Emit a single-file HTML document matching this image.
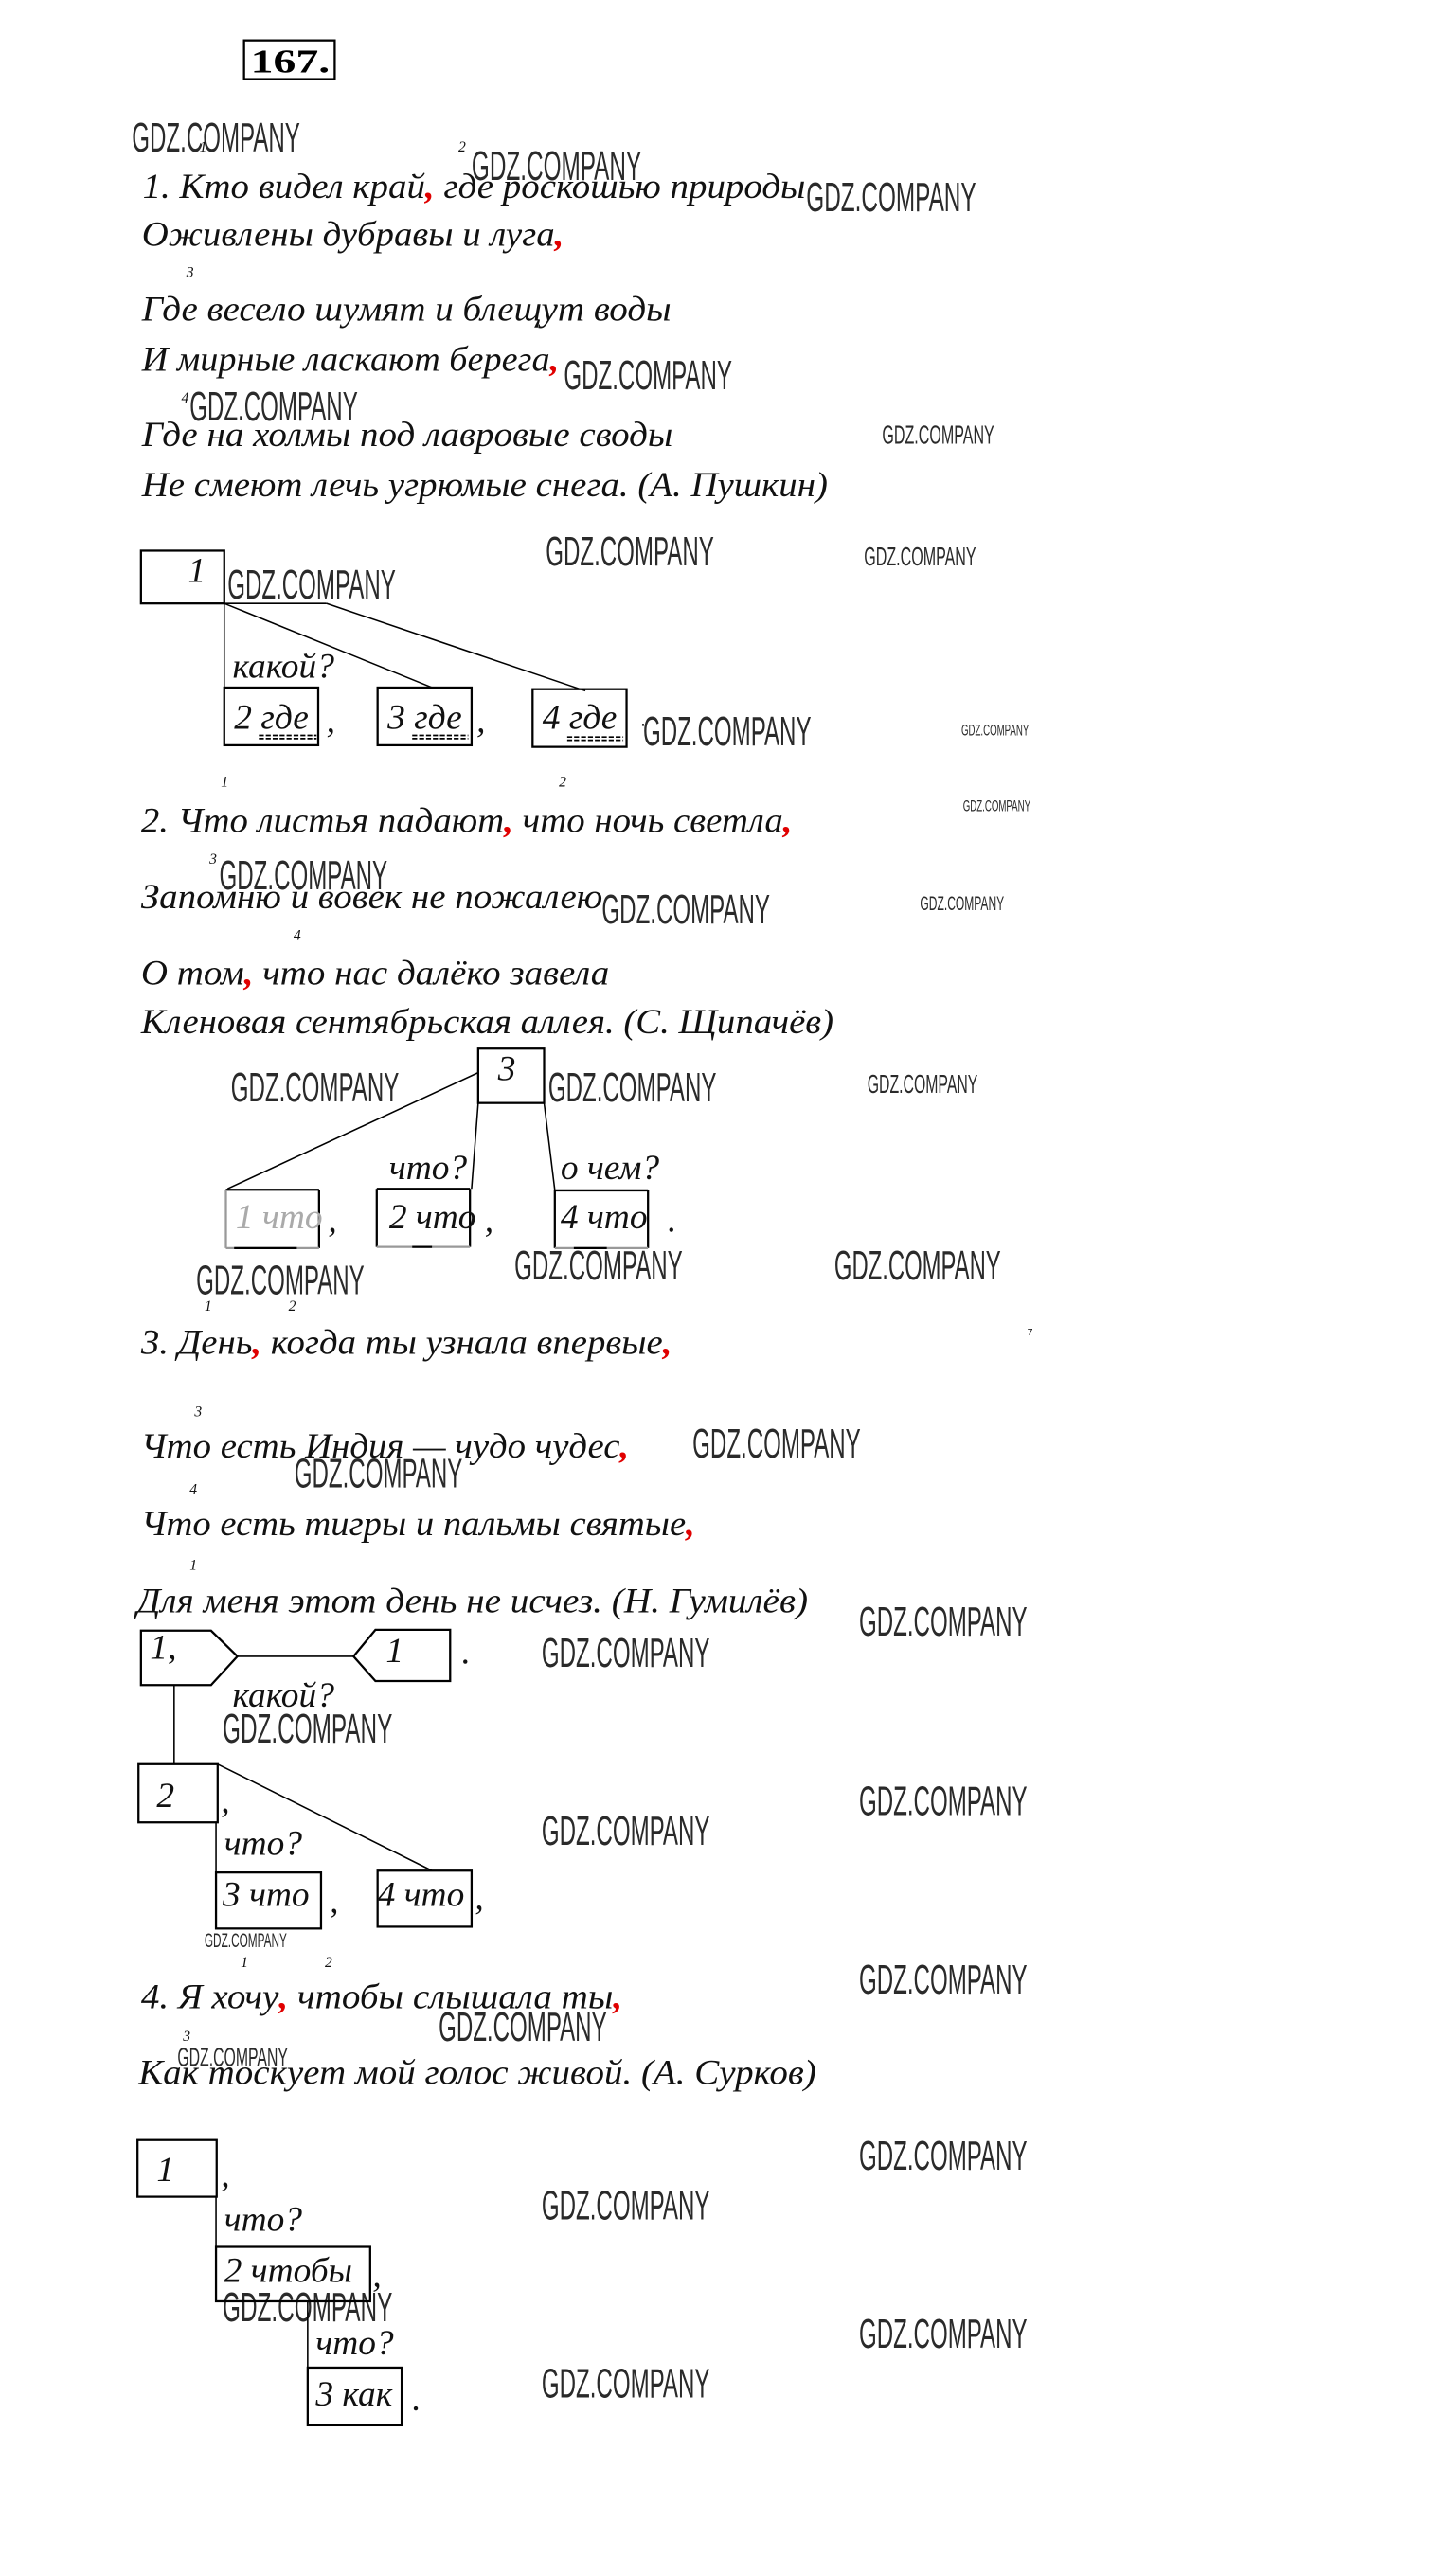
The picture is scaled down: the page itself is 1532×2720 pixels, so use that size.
<!DOCTYPE html>
<html><head><meta charset="utf-8"><style>
html,body{margin:0;padding:0;background:#fff;}
svg{display:block;}
.t{font-family:"Liberation Serif","DejaVu Serif",serif;font-style:italic;font-size:21.5px;fill:#111;}
.s{font-family:"Liberation Serif",serif;font-style:italic;font-size:9px;fill:#111;}
.w{font-family:"Liberation Sans Narrow","Liberation Sans",sans-serif;fill:#2a2a2a;}
.r{fill:#e00000;font-weight:bold;}
.b{fill:none;stroke:#000;stroke-width:1.3;}
.l{stroke:#000;stroke-width:0.9;fill:none;}
</style></head><body>
<svg width="1532" height="2720" viewBox="0 0 880 1562.4" preserveAspectRatio="none" xmlns="http://www.w3.org/2000/svg">
<rect x="0" y="0" width="880" height="1562.4" fill="#fff"/>
<!-- header -->
<rect x="148" y="24.5" width="55" height="23.5" class="b"/>
<text x="152" y="44" font-family="Liberation Serif,serif" font-weight="bold" font-size="20" textLength="48" lengthAdjust="spacingAndGlyphs">167.</text>

<!-- watermarks big -->
<g class="w" font-size="25">
<text x="80" y="92" textLength="102" lengthAdjust="spacingAndGlyphs">GDZ.COMPANY</text>
<text x="286" y="109" textLength="103" lengthAdjust="spacingAndGlyphs">GDZ.COMPANY</text>
<text x="489" y="128" textLength="103" lengthAdjust="spacingAndGlyphs">GDZ.COMPANY</text>
<text x="342" y="236" textLength="102" lengthAdjust="spacingAndGlyphs">GDZ.COMPANY</text>
<text x="115" y="255" textLength="102" lengthAdjust="spacingAndGlyphs">GDZ.COMPANY</text>
<text x="331" y="343" textLength="102" lengthAdjust="spacingAndGlyphs">GDZ.COMPANY</text>
<text x="138" y="363" textLength="102" lengthAdjust="spacingAndGlyphs">GDZ.COMPANY</text>
<text x="390" y="452" textLength="102" lengthAdjust="spacingAndGlyphs">GDZ.COMPANY</text>
<text x="133" y="539.5" textLength="102" lengthAdjust="spacingAndGlyphs">GDZ.COMPANY</text>
<text x="365" y="560" textLength="102" lengthAdjust="spacingAndGlyphs">GDZ.COMPANY</text>
<text x="140" y="668" textLength="102" lengthAdjust="spacingAndGlyphs">GDZ.COMPANY</text>
<text x="332.5" y="668" textLength="102" lengthAdjust="spacingAndGlyphs">GDZ.COMPANY</text>
<text x="119" y="785" textLength="102" lengthAdjust="spacingAndGlyphs">GDZ.COMPANY</text>
<text x="312" y="776" textLength="102" lengthAdjust="spacingAndGlyphs">GDZ.COMPANY</text>
<text x="506" y="776" textLength="101" lengthAdjust="spacingAndGlyphs">GDZ.COMPANY</text>
<text x="420" y="884" textLength="102" lengthAdjust="spacingAndGlyphs">GDZ.COMPANY</text>
<text x="178.5" y="902" textLength="102" lengthAdjust="spacingAndGlyphs">GDZ.COMPANY</text>
<text x="521" y="992" textLength="102" lengthAdjust="spacingAndGlyphs">GDZ.COMPANY</text>
<text x="328.5" y="1011" textLength="102" lengthAdjust="spacingAndGlyphs">GDZ.COMPANY</text>
<text x="135" y="1057" textLength="103" lengthAdjust="spacingAndGlyphs">GDZ.COMPANY</text>
<text x="521" y="1101" textLength="102" lengthAdjust="spacingAndGlyphs">GDZ.COMPANY</text>
<text x="328.5" y="1119" textLength="102" lengthAdjust="spacingAndGlyphs">GDZ.COMPANY</text>
<text x="521" y="1209" textLength="102" lengthAdjust="spacingAndGlyphs">GDZ.COMPANY</text>
<text x="266" y="1238" textLength="102" lengthAdjust="spacingAndGlyphs">GDZ.COMPANY</text>
<text x="521" y="1316" textLength="102" lengthAdjust="spacingAndGlyphs">GDZ.COMPANY</text>
<text x="328.5" y="1346" textLength="102" lengthAdjust="spacingAndGlyphs">GDZ.COMPANY</text>
<text x="135" y="1408" textLength="103" lengthAdjust="spacingAndGlyphs">GDZ.COMPANY</text>
<text x="521" y="1424" textLength="102" lengthAdjust="spacingAndGlyphs">GDZ.COMPANY</text>
<text x="328.5" y="1454" textLength="102" lengthAdjust="spacingAndGlyphs">GDZ.COMPANY</text>
</g>
<g class="w" font-size="16">
<text x="535" y="269" textLength="68" lengthAdjust="spacingAndGlyphs">GDZ.COMPANY</text>
<text x="524" y="343" textLength="68" lengthAdjust="spacingAndGlyphs">GDZ.COMPANY</text>
<text x="526" y="663" textLength="67" lengthAdjust="spacingAndGlyphs">GDZ.COMPANY</text>
<text x="107.6" y="1253" textLength="67" lengthAdjust="spacingAndGlyphs">GDZ.COMPANY</text>
</g>
<g class="w" font-size="12">
<text x="558" y="552" textLength="51" lengthAdjust="spacingAndGlyphs">GDZ.COMPANY</text>
<text x="124" y="1181" textLength="50" lengthAdjust="spacingAndGlyphs">GDZ.COMPANY</text>
</g>
<g class="w" font-size="9.5">
<text x="583" y="446" textLength="41" lengthAdjust="spacingAndGlyphs">GDZ.COMPANY</text>
<text x="584" y="492" textLength="41" lengthAdjust="spacingAndGlyphs">GDZ.COMPANY</text>
</g>
<text x="388" y="443" font-size="12" font-family="Liberation Sans,sans-serif">·</text>
<text x="623" y="810" font-size="6" font-family="Liberation Sans,sans-serif">7</text>

<!-- section 1 text -->
<text class="s" x="121" y="92">1</text>
<text class="s" x="278" y="92">2</text>
<text class="s" x="113" y="168">3</text>
<text class="s" x="110" y="244">4</text>
<text class="t" x="86.5" y="120" textLength="402" lengthAdjust="spacingAndGlyphs">1. Кто видел край<tspan class="r">,</tspan> где роскошью природы</text>
<text class="t" x="86" y="149" textLength="256" lengthAdjust="spacingAndGlyphs">Оживлены дубравы и луга<tspan class="r">,</tspan></text>
<text class="t" x="86" y="194.5" textLength="321" lengthAdjust="spacingAndGlyphs">Где весело шумят и блещут воды</text>
<text class="t" x="86" y="225" textLength="253" lengthAdjust="spacingAndGlyphs">И мирные ласкают берега<tspan class="r">,</tspan></text>
<text class="t" x="86" y="270.5" textLength="322" lengthAdjust="spacingAndGlyphs">Где на холмы под лавровые своды</text>
<text class="t" x="86" y="301" textLength="416" lengthAdjust="spacingAndGlyphs">Не смеют лечь угрюмые снега. (А. Пушкин)</text>

<!-- diagram 1 -->
<rect x="85.5" y="334" width="50.5" height="32" class="b"/>
<text class="t" x="114" y="353">1</text>
<polyline class="l" points="136,366 136,417"/>
<line class="l" x1="136" y1="366" x2="198" y2="366"/>
<line class="l" x1="136" y1="366" x2="262" y2="417"/>
<line class="l" x1="198" y1="366" x2="355" y2="419"/>
<text class="t" x="141" y="411" font-size="19">какой?</text>
<rect x="136" y="417" width="57" height="35" class="b"/>
<rect x="229" y="417" width="57" height="35" class="b"/>
<rect x="323" y="418" width="57" height="35" class="b"/>
<text class="t" x="142" y="442" font-size="20">2 где</text>
<text class="t" x="235" y="442" font-size="20">3 где</text>
<text class="t" x="329" y="442" font-size="20">4 где</text>
<g stroke="#000" stroke-width="1" stroke-dasharray="3,1.2">
<line x1="157" y1="446" x2="192" y2="446"/><line x1="157" y1="448" x2="192" y2="448"/>
<line x1="250" y1="446" x2="284" y2="446"/><line x1="250" y1="448" x2="284" y2="448"/>
<line x1="344" y1="447" x2="378" y2="447"/><line x1="344" y1="449" x2="378" y2="449"/>
</g>
<text class="t" x="198" y="444" font-size="16">,</text>
<text class="t" x="289" y="444" font-size="16">,</text>
<text class="s" x="134" y="477">1</text>
<text class="s" x="339" y="477">2</text>

<!-- section 2 -->
<text class="t" x="85.5" y="504.7" textLength="395" lengthAdjust="spacingAndGlyphs">2. Что листья падают<tspan class="r">,</tspan> что ночь светла<tspan class="r">,</tspan></text>
<text class="s" x="127" y="524">3</text>
<text class="t" x="85.5" y="551" textLength="280" lengthAdjust="spacingAndGlyphs">Запомню и вовек не пожалею</text>
<text class="s" x="178" y="570">4</text>
<text class="t" x="85.5" y="597" textLength="284" lengthAdjust="spacingAndGlyphs">О том<tspan class="r">,</tspan> что нас далёко завела</text>
<text class="t" x="85.5" y="626.7" textLength="420" lengthAdjust="spacingAndGlyphs">Кленовая сентябрьская аллея. (С. Щипачёв)</text>

<!-- diagram 2 -->
<rect x="290" y="636" width="40" height="33" class="b"/>
<text class="t" x="302" y="655">3</text>
<line class="l" x1="290" y1="650.6" x2="138" y2="721"/>
<line class="l" x1="290" y1="669" x2="286" y2="721"/>
<line class="l" x1="330" y1="669" x2="336.5" y2="722"/>
<text class="t" x="236" y="715" font-size="19">что?</text>
<text class="t" x="340" y="715" font-size="19">о чем?</text>
<!-- box 1 что -->
<line x1="137" y1="721.6" x2="193.5" y2="721.6" stroke="#000" stroke-width="1.3"/>
<line x1="193.5" y1="721.6" x2="193.5" y2="757" stroke="#000" stroke-width="1.3"/>
<line x1="137" y1="721.6" x2="137" y2="757" stroke="#999" stroke-width="1.3"/>
<line x1="137" y1="757" x2="193.5" y2="757" stroke="#999" stroke-width="1.3"/>
<line x1="142" y1="757" x2="180" y2="757" stroke="#000" stroke-width="1.3"/>
<text class="t" x="143" y="745" font-size="20" fill="#aaa" style="fill:#aaa">1 что</text>
<!-- box 2 что -->
<line x1="228.5" y1="721" x2="285" y2="721" stroke="#000" stroke-width="1.3"/>
<line x1="228.5" y1="721" x2="228.5" y2="756.3" stroke="#000" stroke-width="1.3"/>
<line x1="285" y1="721" x2="285" y2="756.3" stroke="#000" stroke-width="1.3"/>
<line x1="228.5" y1="756.3" x2="285" y2="756.3" stroke="#999" stroke-width="1.3"/>
<line x1="250" y1="756.3" x2="262" y2="756.3" stroke="#000" stroke-width="1.3"/>
<text class="t" x="236" y="745" font-size="20">2 что</text>
<!-- box 4 что -->
<line x1="336.5" y1="722" x2="393" y2="722" stroke="#000" stroke-width="1.3"/>
<line x1="336.5" y1="722" x2="336.5" y2="757" stroke="#000" stroke-width="1.3"/>
<line x1="393" y1="722" x2="393" y2="757" stroke="#000" stroke-width="1.3"/>
<line x1="336.5" y1="757" x2="393" y2="757" stroke="#999" stroke-width="1.3"/>
<line x1="348" y1="757" x2="368" y2="757" stroke="#000" stroke-width="1.3"/>
<text class="t" x="340" y="745" font-size="20">4 что</text>
<text class="t" x="199" y="747" font-size="16">,</text>
<text class="t" x="294" y="747" font-size="16">,</text>
<text class="t" x="405" y="747" font-size="16">.</text>
<text class="s" x="124" y="795">1</text>
<text class="s" x="175" y="795">2</text>

<!-- section 3 -->
<text class="t" x="85.5" y="821.2" textLength="322" lengthAdjust="spacingAndGlyphs">3. День<tspan class="r">,</tspan> когда ты узнала впервые<tspan class="r">,</tspan></text>
<text class="s" x="118" y="859">3</text>
<text class="t" x="85.5" y="884" textLength="296" lengthAdjust="spacingAndGlyphs">Что есть Индия — чудо чудес<tspan class="r">,</tspan></text>
<text class="s" x="115" y="906">4</text>
<text class="t" x="85.5" y="931" textLength="336" lengthAdjust="spacingAndGlyphs">Что есть тигры и пальмы святые<tspan class="r">,</tspan></text>
<text class="s" x="115" y="952">1</text>
<text class="t" x="83" y="977.8" textLength="407" lengthAdjust="spacingAndGlyphs">Для меня этот день не исчез. (Н. Гумилёв)</text>

<!-- diagram 3 -->
<polygon class="b" points="85.5,989 128,989 144,1004.6 128,1022 85.5,1022"/>
<text class="t" x="91" y="1006" font-size="20">1,</text>
<line class="l" x1="144" y1="1004.6" x2="214.4" y2="1004.6"/>
<polygon class="b" points="214.4,1004.6 227.7,988.5 273,988.5 273,1019.6 227.7,1019.6"/>
<text class="t" x="234" y="1008" font-size="20">1</text>
<text class="t" x="280" y="1009" font-size="16">.</text>
<line class="l" x1="105.6" y1="1022" x2="105.6" y2="1070"/>
<text class="t" x="141" y="1035" font-size="19">какой?</text>
<rect x="84" y="1070" width="48" height="35.3" class="b"/>
<text class="t" x="95" y="1096" font-size="20">2</text>
<text class="t" x="134" y="1099" font-size="16">,</text>
<line class="l" x1="132" y1="1070" x2="262" y2="1134.6"/>
<line class="l" x1="131" y1="1105" x2="131" y2="1135.7"/>
<text class="t" x="136" y="1125" font-size="19">что?</text>
<rect x="131" y="1135.7" width="63.7" height="34" class="b"/>
<text class="t" x="135" y="1156" font-size="20">3 что</text>
<text class="t" x="200" y="1160" font-size="16">,</text>
<rect x="229" y="1134.6" width="57" height="34" class="b"/>
<text class="t" x="229" y="1156" font-size="20">4 что</text>
<text class="t" x="288" y="1158" font-size="16">,</text>
<text class="s" x="146" y="1193">1</text>
<text class="s" x="197" y="1193">2</text>

<!-- section 4 -->
<text class="t" x="85.5" y="1218" textLength="292" lengthAdjust="spacingAndGlyphs">4. Я хочу<tspan class="r">,</tspan> чтобы слышала ты<tspan class="r">,</tspan></text>
<text class="s" x="111" y="1238">3</text>
<text class="t" x="84" y="1264" textLength="411" lengthAdjust="spacingAndGlyphs">Как тоскует мой голос живой. (А. Сурков)</text>

<!-- diagram 4 -->
<rect x="83.4" y="1298" width="48" height="34.4" class="b"/>
<text class="t" x="95" y="1323" font-size="20">1</text>
<text class="t" x="134" y="1326" font-size="16">,</text>
<line class="l" x1="131" y1="1332.4" x2="131" y2="1362.8"/>
<text class="t" x="136" y="1353" font-size="19">что?</text>
<rect x="131" y="1362.8" width="93.5" height="33" class="b"/>
<text class="t" x="136" y="1384" font-size="20">2 чтобы</text>
<text class="t" x="226" y="1387" font-size="16">,</text>
<line class="l" x1="186.6" y1="1395.8" x2="186.6" y2="1436"/>
<text class="t" x="191.5" y="1428" font-size="19">что?</text>
<rect x="186.6" y="1436" width="57" height="35" class="b"/>
<text class="t" x="191.5" y="1459" font-size="20">3 как</text>
<text class="t" x="250" y="1462" font-size="16">.</text>
</svg>
</body></html>
